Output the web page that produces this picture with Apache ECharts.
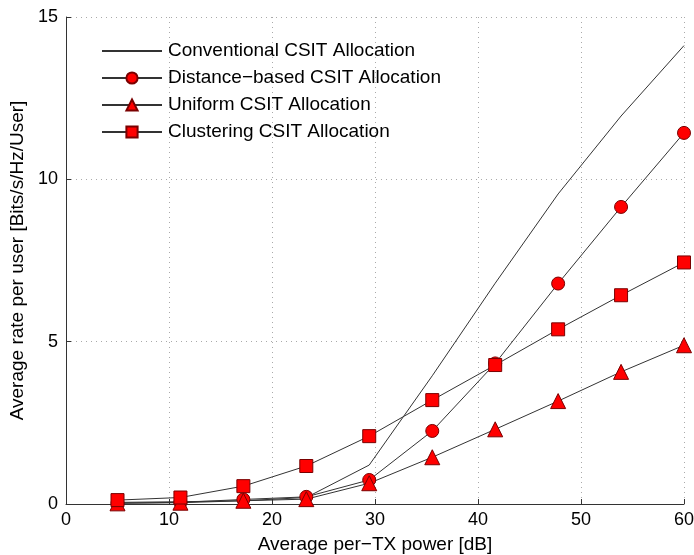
<!DOCTYPE html>
<html>
<head>
<meta charset="utf-8">
<script src="https://cdn.jsdelivr.net/npm/echarts@6/dist/echarts.min.js"></script>
<style>html,body{margin:0;padding:0;background:#fff}#c{width:694px;height:555px}</style>
</head>
<body>
<div id="c"></div>
<script>
const xValues = [5, 11.11, 17.22, 23.33, 29.44, 35.56, 41.67, 47.78, 53.89, 60];
const conventional = [0.05, 0.07, 0.1, 0.2, 1.2, 3.95, 6.8, 9.55, 11.95, 14.12];
const distanceBased = [0.03, 0.05, 0.14, 0.22, 0.74, 2.25, 4.33, 6.79, 9.15, 11.43];
const uniform = [0.02, 0.04, 0.1, 0.15, 0.64, 1.44, 2.3, 3.17, 4.07, 4.89];
const clustering = [0.12, 0.2, 0.55, 1.17, 2.09, 3.2, 4.28, 5.38, 6.43, 7.44];
const seriesNames = ['Conventional CSIT Allocation', 'Distance\u2212based CSIT Allocation', 'Uniform CSIT Allocation', 'Clustering CSIT Allocation'];
const xTicks = [0, 10, 20, 30, 40, 50, 60];
const yTicks = [0, 5, 10, 15];

const pair = arr => xValues.map((x, i) => [x, arr[i]]);
const font = '"Liberation Sans", Arial, Helvetica, sans-serif';
const markerStyle = {color: '#ff0000', borderColor: '#7a0000', borderWidth: 1};
const lineStyle = {color: '#333', width: 1};

function mk(name, data, symbol, size) {
  return {
    name, type: 'line', data: pair(data),
    symbol: symbol || 'none', symbolSize: size || 0, showSymbol: !!symbol,
    lineStyle, itemStyle: symbol ? markerStyle : {color: '#333'},
    emphasis: {disabled: true}, animation: false, z: 3
  };
}

const chart = echarts.init(document.getElementById('c'));
chart.setOption({
  backgroundColor: '#fff',
  animation: false,
  grid: {left: 66, right: 10, top: 17, bottom: 51, containLabel: false, outerBoundsMode: 'none'},
  legend: {
    orient: 'vertical', left: 96, top: 36, itemWidth: 60, itemHeight: 14, itemGap: 7,
    textStyle: {fontFamily: font, fontSize: 19, lineHeight: 20, color: '#000', padding: [0, 0, 0, 1]},
    data: seriesNames.map((n, i) => i === 0
      ? {name: n, itemStyle: {opacity: 0, borderWidth: 0}}
      : {name: n})
  },
  xAxis: {
    type: 'value', min: 0, max: 60, interval: 10,
    name: 'Average per\u2212TX power [dB]', nameLocation: 'middle', nameGap: 31,
    nameTextStyle: {fontFamily: font, fontSize: 19, color: '#000'},
    axisLine: {show: true, lineStyle: {color: '#333', width: 1}},
    axisTick: {show: true, inside: true, length: 5, lineStyle: {color: '#333'}},
    axisLabel: {fontFamily: font, fontSize: 18, color: '#000', margin: 7,
      formatter: v => xTicks.includes(v) ? String(v) : ''},
    splitLine: {show: true, lineStyle: {color: '#aaa', type: [1, 4], width: 1}}
  },
  yAxis: {
    type: 'value', min: 0, max: 15, interval: 5,
    name: 'Average rate per user [Bits/s/Hz/User]', nameLocation: 'middle', nameGap: 31,
    nameTextStyle: {fontFamily: font, fontSize: 19, color: '#000'},
    axisLine: {show: true, lineStyle: {color: '#333', width: 1}},
    axisTick: {show: true, inside: true, length: 5, lineStyle: {color: '#333'}},
    axisLabel: {fontFamily: font, fontSize: 18, color: '#000', margin: 8,
      formatter: v => yTicks.includes(v) ? String(v) : ''},
    splitLine: {show: true, lineStyle: {color: '#aaa', type: [1, 4], width: 1}}
  },
  series: [
    mk(seriesNames[0], conventional),
    mk(seriesNames[1], distanceBased, 'circle', 13),
    mk(seriesNames[2], uniform, 'triangle', 15),
    mk(seriesNames[3], clustering, 'rect', 13)
  ]
});
</script>
</body>
</html>
